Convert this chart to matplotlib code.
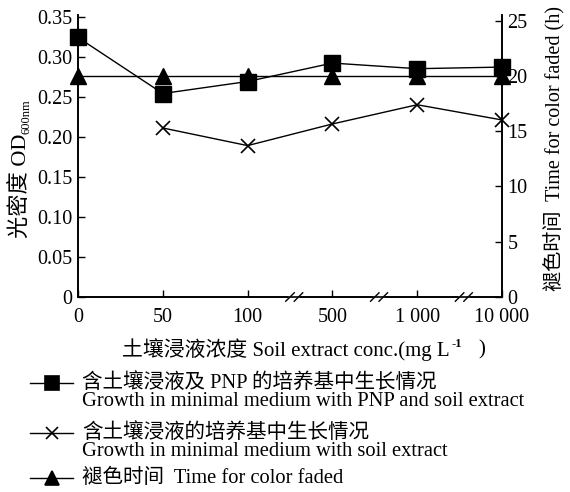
import matplotlib
matplotlib.use('Agg')
import matplotlib.pyplot as plt
from matplotlib.lines import Line2D

plt.rcParams['font.family'] = ['Liberation Serif', 'Noto Sans CJK SC']
plt.rcParams['font.size'] = 14

conc_labels = ['0', '50', '100', '500', '1 000', '10 000']
od_pnp = [0.324, 0.254, 0.269, 0.292, 0.285, 0.287]
od_soil = [0.211, 0.189, 0.216, 0.240, 0.221]      # starts at 50
fade_time = [20, 20, 20, 20, 20, 20]
breaks = [2.55, 3.55, 4.55]

legend_cn = ['含土壤浸液及 PNP 的培养基中生长情况', '含土壤浸液的培养基中生长情况', '褪色时间  Time for color faded']
legend_en = ['Growth in minimal medium with PNP and soil extract', 'Growth in minimal medium with soil extract', '']

fig = plt.figure(figsize=(5.7, 4.92), dpi=100)
ax = fig.add_axes([0.1368, 0.3963, 0.7439, 0.5732])
ax2 = ax.twinx()

x = list(range(len(conc_labels)))
ax.plot(x, od_pnp, '-s', color='k', lw=1, ms=11, clip_on=False, zorder=3)
ax.plot(x[1:], od_soil, '-x', color='k', lw=1, ms=10, mew=1.2, clip_on=False, zorder=3)
ax2.plot(x, fade_time, '-^', color='k', lw=1, ms=11, clip_on=False, zorder=3)

ax.set_xlim(0, 5)
ax.set_ylim(0, 0.352)
ax2.set_ylim(0, 25.5)
ax.set_xticks(x)
ax.set_xticklabels(conc_labels)
ax.set_yticks([0, 0.05, 0.10, 0.15, 0.20, 0.25, 0.30, 0.35])
ax.set_yticklabels(['0', '0.05', '0.10', '0.15', '0.20', '0.25', '0.30', '0.35'])
ax2.set_yticks([0, 5, 10, 15, 20, 25])

for a in (ax, ax2):
    a.spines['top'].set_visible(False)
    for s in a.spines.values():
        s.set_linewidth(1.2)
ax.tick_params(direction='in', length=5, width=1, labelsize=14.5, pad=4)
ax.tick_params(axis='x', pad=8)
ax2.tick_params(direction='in', length=5, width=1, labelsize=14.5, pad=4)

# axis breaks on the x axis
tr = ax.get_xaxis_transform()
for b in breaks:
    ax.plot([b - 0.05, b + 0.05], [0, 0], color='white', lw=3, transform=tr, clip_on=False, zorder=4)
    for off in (-0.05, 0.05):
        ax.plot([b + off - 0.05, b + off + 0.05], [-0.015, 0.015], color='k', lw=1,
                transform=tr, clip_on=False, zorder=5)

# left y label with subscript
ylab = fig.text(20 / 570, 1 - 238 / 492, '光密度 OD', rotation=90, ha='center', va='bottom', fontsize=16)
ax.annotate('600nm', xy=(0.5, 1), xycoords=ylab, xytext=(5, 0), textcoords='offset points',
            rotation=90, ha='center', va='bottom', fontsize=9)

# right y label
ax2.set_ylabel('褪色时间  Time for color faded (h)', fontsize=14.5, labelpad=4)
ax2.yaxis.set_label_coords(1.1, 0.525)

# x label with superscript
xlab = fig.text(122 / 570, 1 - 350 / 492, '土壤浸液浓度 Soil extract conc.(mg L', ha='left', va='center', fontsize=15)
ax.annotate('-1', xy=(1, 0.78), xycoords=xlab, xytext=(1, 0), textcoords='offset points',
            ha='left', va='center', fontsize=9, fontweight='bold')
ax.annotate(')', xy=(1, 0.5), xycoords=xlab, xytext=(21, 0), textcoords='offset points',
            ha='left', va='center', fontsize=15)

# legend drawn below the chart
markers = ['s', 'x', '^']
rows = [383, 433, 478]
for m, cn, en, ry in zip(markers, legend_cn, legend_en, rows):
    yf = 1 - ry / 492
    fig.add_artist(Line2D([30 / 570, 51.5 / 570, 73 / 570], [yf, yf, yf], transform=fig.transFigure,
                          color='k', lw=1, marker=m, ms=10 if m != 'x' else 9, mew=1.2,
                          markevery=[1]))
    fig.text(82 / 570, yf, cn, ha='left', va='center', fontsize=14.8)
    if en:
        fig.text(82 / 570, yf - 18 / 492, en, ha='left', va='center', fontsize=14.8)

fig.savefig('out.png', dpi=100)
